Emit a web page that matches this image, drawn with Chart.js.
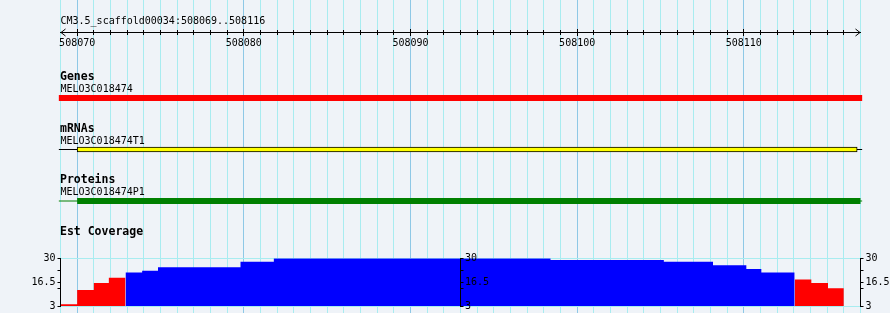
<!DOCTYPE html>
<html>
<head>
<meta charset="utf-8">
<script src="https://cdn.jsdelivr.net/npm/chart.js@4/dist/chart.umd.min.js"></script>
<style>
  html, body { margin: 0; padding: 0; background: #eff3f8; }
  #wrap { position: relative; width: 890px; height: 313px; overflow: hidden; }
  #wrap canvas { position: absolute; left: 0; top: 0; }
</style>
</head>
<body>
<div id="wrap">
  <canvas id="base" width="890" height="313"></canvas>
  <canvas id="cov" width="890" height="313"></canvas>
  <canvas id="mid" width="890" height="313"></canvas>
</div>
<script>
// ---------------- data ----------------
const WINDOW_START = 508069;
const WINDOW_END = 508117;
const rulerTitle = 'CM3.5_scaffold00034:508069..508116';
const rulerMajorTicks = [508070, 508080, 508090, 508100, 508110];
const rulerMajorLabels = ['508070', '508080', '508090', '508100', '508110'];

const trackTitles = ['Genes', 'mRNAs', 'Proteins', 'Est Coverage'];
const featureNames = ['MELO3C018474', 'MELO3C018474T1', 'MELO3C018474P1'];
const featureStarts = [508068.9, 508068.9, 508068.9];
const featureEnds = [508117.1, 508117.1, 508117.1];
const codingStarts = [null, 508070.0, 508070.0];
const codingEnds = [null, 508116.8, 508117.0];

const covStarts = [508069.0, 508070.0, 508071.0, 508071.9, 508072.9, 508073.9, 508074.85,
                   508079.8, 508081.8, 508098.4, 508105.2, 508108.15, 508110.15, 508111.05,
                   508113.05, 508114.05, 508115.05];
const covEnd = 508116.0;
const covValues = [4, 12, 16, 19, 22, 23, 25, 28, 30, 29, 28, 26, 24, 22, 18, 16, 13];
const covTicks = [3, 13, 16.5, 23, 30];
const covTickLabels = ['3', '', '16.5', '', '30'];
const COV_MIN = 3, COV_MAX = 30, COV_LOW = 20;

// ---------------- layout / style ----------------
const W = 890, H = 313;
const PLOT_LEFT = 60.5, PLOT_RIGHT_PAD = 29.5;
const MID_AXIS_PX = 460.5;
const RULER_PX = 32;
const FIRST_ROW_PX = 98, ROW_STEP_PX = 51.5;
const ROW_MIN = 1 - FIRST_ROW_PX / ROW_STEP_PX;
const ROW_MAX = ROW_MIN + H / ROW_STEP_PX;
const COV_TOP = 258.3, COV_BOTTOM = 307.3;
const GRID_MINOR = '#a8ecf0', GRID_MAJOR = '#8ec8e6';
const mono = "'DejaVu Sans Mono', 'Liberation Mono', monospace";

const bpTicks = [];
for (let p = WINDOW_START; p <= WINDOW_END; p++) bpTicks.push(p);
const minorTicks = bpTicks.filter(p => p > WINDOW_START && p < WINDOW_END);

function fixedTicks(list) { return s => { s.ticks = list.map(v => ({ value: v })); }; }
const xRange = { type: 'linear', min: WINDOW_START, max: WINDOW_END, offset: false };

// ---------------- base chart: grid, ruler, feature tracks ----------------
const trackSets = [];
featureNames.forEach((name, i) => {
  const row = i + 1;
  const colours = ['#ff0000', '#000000', '#008000'];
  if (codingStarts[i] === null) {
    trackSets.push({ type: 'line', label: name, xAxisID: 'x', yAxisID: 'yRow', order: 1,
      data: [{ x: featureStarts[i], y: row }, { x: featureEnds[i], y: row }],
      borderColor: colours[i], borderWidth: 6, borderCapStyle: 'butt', pointRadius: 0, clip: false });
  } else {
    trackSets.push({ type: 'line', label: name + ' span', xAxisID: 'x', yAxisID: 'yRow', order: 3,
      data: [{ x: featureStarts[i], y: row }, { x: featureEnds[i], y: row }],
      borderColor: colours[i], borderWidth: 1, borderCapStyle: 'butt', pointRadius: 0, clip: false });
    if (i === 1) {
      trackSets.push({ type: 'bar', label: name, indexAxis: 'y', grouped: false, xAxisID: 'x', yAxisID: 'yRow', order: 1,
        data: [{ x: [codingStarts[i], codingEnds[i]], y: row }],
        backgroundColor: '#ffff00', borderColor: '#000000', borderWidth: 1, borderSkipped: false,
        barThickness: 5, clip: false });
    } else {
      trackSets.push({ type: 'line', label: name, xAxisID: 'x', yAxisID: 'yRow', order: 1,
        data: [{ x: codingStarts[i], y: row }, { x: codingEnds[i], y: row }],
        borderColor: colours[i], borderWidth: 6, borderCapStyle: 'butt', pointRadius: 0, clip: false });
    }
  }
});

const textPlugin = {
  id: 'trackText',
  afterDraw(chart) {
    const ctx = chart.ctx, a = chart.chartArea;
    const yRow = chart.scales.yRow, yPx = chart.scales.yPx, xl = chart.scales.xLine;
    ctx.save();
    ctx.fillStyle = '#000';
    ctx.textAlign = 'left';
    ctx.textBaseline = 'alphabetic';
    ctx.font = '10px ' + mono;
    ctx.fillText(rulerTitle, a.left, yPx.getPixelForValue(RULER_PX) - 8);
    trackTitles.forEach((t, i) => {
      const y = yRow.getPixelForValue(i + 1);
      ctx.font = 'bold 11.5px ' + mono;
      ctx.fillText(t, a.left - 0.5, y - 18);
      if (featureNames[i]) {
        ctx.font = '10px ' + mono;
        ctx.fillText(featureNames[i], a.left, y - 6);
      }
    });
    // ruler arrowheads
    const yA = Math.round(yPx.getPixelForValue(RULER_PX)) + 0.5;
    const L = xl.getPixelForValue(WINDOW_START), R = xl.getPixelForValue(WINDOW_END);
    ctx.strokeStyle = '#000';
    ctx.lineWidth = 1;
    ctx.beginPath();
    ctx.moveTo(L + 5, yA - 3.5); ctx.lineTo(L + 0.5, yA); ctx.lineTo(L + 5, yA + 3.5);
    ctx.moveTo(R - 5, yA - 3.5); ctx.lineTo(R - 0.5, yA); ctx.lineTo(R - 5, yA + 3.5);
    ctx.stroke();
    ctx.restore();
  }
};

new Chart(document.getElementById('base'), {
  type: 'line',
  data: { datasets: trackSets },
  options: {
    responsive: false, animation: false, devicePixelRatio: 1, events: [],
    layout: { padding: { left: PLOT_LEFT, right: PLOT_RIGHT_PAD, top: 0, bottom: 0 } },
    plugins: { legend: { display: false }, tooltip: { enabled: false } },
    scales: {
      x: { ...xRange, position: { yPx: 0 }, afterBuildTicks: fixedTicks(bpTicks),
        ticks: { display: false }, border: { display: false },
        grid: { drawTicks: false, lineWidth: 1, offset: false,
          color: c => (c.tick && c.tick.value % 10 === 0) ? GRID_MAJOR : GRID_MINOR } },
      xTicks: { ...xRange, position: { yPx: RULER_PX - 2 }, afterBuildTicks: fixedTicks(minorTicks),
        ticks: { display: false }, border: { display: false },
        grid: { drawOnChartArea: false, drawTicks: true, tickLength: 5, tickColor: '#000', tickWidth: 1 } },
      xMajor: { ...xRange, position: { yPx: RULER_PX - 3 }, afterBuildTicks: fixedTicks(rulerMajorTicks),
        ticks: { display: true, autoSkip: false, maxRotation: 0, padding: 1, color: '#000',
          font: { family: mono, size: 10 }, callback: (v, i) => rulerMajorLabels[i] },
        border: { display: false },
        grid: { drawOnChartArea: false, drawTicks: true, tickLength: 7, tickColor: '#000', tickWidth: 1 } },
      xLine: { ...xRange, position: { yPx: RULER_PX },
        ticks: { display: false },
        grid: { drawOnChartArea: false, drawTicks: false },
        border: { display: true, color: '#000', width: 1 } },
      yPx: { type: 'linear', min: 0, max: H, reverse: true, offset: false, display: false },
      yRow: { type: 'linear', min: ROW_MIN, max: ROW_MAX, reverse: true, offset: false,
        grid: { offset: false }, display: false }
    }
  },
  plugins: [textPlugin]
});

// ---------------- coverage chart ----------------
const runs = [];
covValues.forEach((v, i) => {
  const low = v < COV_LOW;
  if (!runs.length || runs[runs.length - 1].low !== low) runs.push({ low, pts: [] });
  runs[runs.length - 1].pts.push({ x: covStarts[i], y: v });
});
runs.forEach((r, k) => {
  const end = k < runs.length - 1 ? runs[k + 1].pts[0].x : covEnd;
  r.pts.push({ x: end, y: r.pts[r.pts.length - 1].y });
});
const covSets = runs.map(r => ({
  label: 'Est Coverage', xAxisID: 'x', yAxisID: 'yL',
  data: r.pts, stepped: 'before', tension: 0,
  borderColor: 'rgba(0,0,0,0)', borderWidth: 0, pointRadius: 0,
  backgroundColor: r.low ? '#ff0000' : '#0000ff',
  fill: { value: COV_MIN }
}));

function covAxis(position, width, padding, onArea) {
  return {
    type: 'linear', position, min: COV_MIN, max: COV_MAX, offset: false,
    afterFit: s => { s.width = width; },
    afterBuildTicks: fixedTicks(covTicks),
    ticks: { autoSkip: false, padding, color: '#000',
      font: { family: mono, size: 10, lineHeight: 1 },
      callback: (v, i) => covTickLabels[i] },
    grid: { drawOnChartArea: onArea, drawTicks: true, tickLength: 3, tickColor: '#000', tickWidth: 1,
      color: c => (c.tick && (c.tick.value === COV_MIN || c.tick.value === COV_MAX)) ? GRID_MINOR : 'rgba(0,0,0,0)' },
    border: { display: true, color: '#000', width: 1 }
  };
}

new Chart(document.getElementById('cov'), {
  type: 'line',
  data: { datasets: covSets },
  options: {
    responsive: false, animation: false, devicePixelRatio: 1, events: [],
    layout: { padding: { left: 0, right: 0, top: COV_TOP, bottom: H - COV_BOTTOM } },
    plugins: { legend: { display: false }, tooltip: { enabled: false } },
    scales: {
      x: { ...xRange, display: false },
      yL: covAxis('left', PLOT_LEFT, 2, true),
      yR: covAxis('right', PLOT_RIGHT_PAD, 2, false)
    }
  }
});

new Chart(document.getElementById('mid'), {
  type: 'line',
  data: { datasets: [] },
  options: {
    responsive: false, animation: false, devicePixelRatio: 1, events: [],
    layout: { padding: { left: 0, right: 0, top: COV_TOP, bottom: H - COV_BOTTOM } },
    plugins: { legend: { display: false }, tooltip: { enabled: false } },
    scales: {
      x: { ...xRange, display: false },
      yM: covAxis('right', W - MID_AXIS_PX, 1.5, false)
    }
  }
});
</script>
</body>
</html>
